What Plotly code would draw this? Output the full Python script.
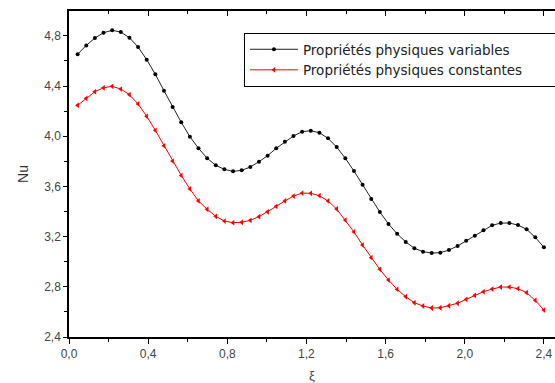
import plotly.graph_objects as go

xi = [0.0436, 0.0873, 0.1309, 0.1745, 0.2182, 0.2618, 0.3055, 0.3491, 0.3927, 0.4364,
      0.48, 0.5236, 0.5673, 0.6109, 0.6545, 0.6982, 0.7418, 0.7855, 0.8291, 0.8727,
      0.9164, 0.96, 1.0036, 1.0473, 1.0909, 1.1345, 1.1782, 1.2218, 1.2655, 1.3091,
      1.3527, 1.3964, 1.44, 1.4836, 1.5273, 1.5709, 1.6145, 1.6582, 1.7018, 1.7455,
      1.7891, 1.8327, 1.8764, 1.92, 1.9636, 2.0073, 2.0509, 2.0945, 2.1382, 2.1818,
      2.2255, 2.2691, 2.3127, 2.3564, 2.4]

nu_variables = [4.653, 4.724, 4.782, 4.825, 4.844, 4.830, 4.785, 4.711, 4.610, 4.493,
                4.363, 4.233, 4.111, 3.996, 3.904, 3.824, 3.768, 3.736, 3.720, 3.728,
                3.755, 3.797, 3.845, 3.904, 3.956, 4.002, 4.036, 4.044, 4.028, 3.983,
                3.914, 3.824, 3.723, 3.614, 3.500, 3.396, 3.301, 3.223, 3.157, 3.107,
                3.080, 3.069, 3.072, 3.093, 3.125, 3.167, 3.207, 3.250, 3.290, 3.308,
                3.308, 3.292, 3.258, 3.194, 3.115]

nu_constantes = [4.246, 4.302, 4.355, 4.386, 4.398, 4.376, 4.331, 4.257, 4.159, 4.047,
                 3.924, 3.802, 3.688, 3.580, 3.484, 3.418, 3.362, 3.324, 3.311, 3.314,
                 3.330, 3.359, 3.398, 3.441, 3.484, 3.523, 3.547, 3.545, 3.526, 3.484,
                 3.420, 3.332, 3.237, 3.133, 3.032, 2.939, 2.854, 2.780, 2.721, 2.673,
                 2.647, 2.631, 2.633, 2.649, 2.669, 2.700, 2.732, 2.761, 2.782, 2.798,
                 2.798, 2.785, 2.753, 2.692, 2.615]

names = ["Propriétés physiques variables", "Propriétés physiques constantes"]
x_ticks = [0.0, 0.4, 0.8, 1.2, 1.6, 2.0, 2.4]
y_ticks = [2.4, 2.8, 3.2, 3.6, 4.0, 4.4, 4.8]

fig = go.Figure()
fig.add_trace(go.Scatter(x=xi, y=nu_variables, name=names[0], mode="lines+markers",
                         line=dict(color="#222222", width=1),
                         marker=dict(symbol="circle", size=4, color="black")))
fig.add_trace(go.Scatter(x=xi, y=nu_constantes, name=names[1], mode="lines+markers",
                         line=dict(color="#ff0000", width=1),
                         marker=dict(symbol="triangle-left", size=5, color="#ff0000")))
# invisible trace to anchor top axis
fig.add_trace(go.Scatter(x=xi, y=nu_variables, xaxis="x2", mode="lines",
                         line=dict(width=0), opacity=0, showlegend=False, hoverinfo="skip"))

font_tick = dict(family="Arial, Liberation Sans, sans-serif", size=12, color="#444444")
xr = [0, 2.456]
fig.update_layout(
    width=555, height=383,
    margin=dict(l=69, r=0, t=11, b=46, autoexpand=False),
    paper_bgcolor="white", plot_bgcolor="white",
    separators=",.",
    showlegend=True,
    legend=dict(x=0.36, y=0.9325, xanchor="left", yanchor="top", orientation="h",
                bordercolor="black", borderwidth=1, bgcolor="white",
                font=dict(family="DejaVu Sans, sans-serif", size=13.5, color="#222222"),
                itemwidth=48, entrywidth=247, entrywidthmode="pixels", tracegroupgap=0),
    xaxis=dict(range=xr, tickvals=x_ticks, tickformat=".1f", ticks="outside", ticklen=5,
               tickwidth=1, tickcolor="black", showline=True, linecolor="black", linewidth=1.5,
               showgrid=False, zeroline=False, tickfont=font_tick,
               minor=dict(tickvals=[0.2, 0.6, 1.0, 1.4, 1.8, 2.2], ticks="outside", ticklen=3,
                          tickcolor="black"),
               title=dict(text="ξ", font=dict(family="Arial, Liberation Sans, sans-serif", size=13, color="#444444"), standoff=12)),
    xaxis2=dict(range=xr, overlaying="x", side="top", anchor="y", showticklabels=False,
                tickvals=x_ticks, ticks="inside", ticklen=5, tickcolor="black",
                showline=True, linecolor="black", linewidth=1.5, showgrid=False, zeroline=False,
                minor=dict(tickvals=[0.2, 0.6, 1.0, 1.4, 1.8, 2.2], ticks="inside", ticklen=3,
                           tickcolor="black")),
    yaxis=dict(range=[2.4, 4.998], tickvals=y_ticks, tickformat=".1f", ticks="outside", ticklen=4,
               tickwidth=1, tickcolor="black", showline=True, linecolor="black", linewidth=1.5,
               showgrid=False, zeroline=False, tickfont=font_tick,
               minor=dict(tickvals=[2.6, 3.0, 3.4, 3.8, 4.2, 4.6], ticks="outside", ticklen=3,
                          tickcolor="black"),
               title=dict(text="Nu", font=dict(family="Arial, Liberation Sans, sans-serif", size=14, color="#333333"), standoff=12)),
)

fig.write_html("out.html")
